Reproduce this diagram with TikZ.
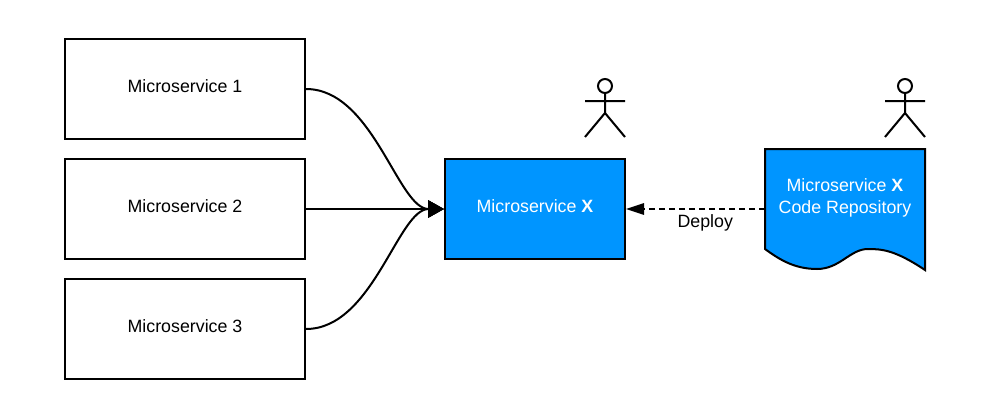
\documentclass[tikz,border=0pt]{standalone}
\usepackage{fontspec}
\setmainfont{Liberation Sans}
\usetikzlibrary{positioning,arrows.meta}
\definecolor{xblue}{HTML}{0095FF}
\tikzset{
  every node/.style={font=\fontsize{13.35}{16.5}\selectfont},
  service/.style={draw=black, line width=1.5pt, fill=white, minimum width=180pt, minimum height=75pt, inner sep=0pt, text depth=5pt},
  target/.style={service, fill=xblue, text=white, minimum width=135pt},
  link/.style={line width=1.5pt, -{Triangle[length=12pt,width=13pt]}},
  deploy/.style={line width=1.5pt, dash pattern=on 4.5pt off 3pt, -{Triangle[length=13.5pt,width=8.5pt]}},
  person/.pic={
    \draw[line width=1.5pt] (0,0) circle [radius=5.25pt];
    \draw[line width=1.5pt] (0,7) -- (0,27) (-20,15) -- (20,15) (-20,51) -- (0,27) -- (20,51);
  }
}
\begin{document}
\begin{tikzpicture}[x=0.75pt,y=-0.75pt]
  \useasboundingbox (0,0) rectangle (990,418);
  \node [service] (ms1) at (185,89) {Microservice 1};
  \node [service, below=13.5pt of ms1] (ms2) {Microservice 2};
  \node [service, below=13.5pt of ms2] (ms3) {Microservice 3};
  \node [target] (msx) at (535,209) {Microservice \textbf{X}};
  \draw[draw=black, line width=1.5pt, fill=xblue] (765,149) -- (925,149) -- (925,270)
    .. controls (895,250) and (882,249) .. (868,249)
    .. controls (850,249) and (840,269) .. (817,269)
    .. controls (795,269) and (780,260) .. (765,249) -- cycle;
  \node [text=white, align=center] (repo) at (845,197.5) {Microservice \textbf{X}\\Code Repository};
  \coordinate (repoin) at (765,209);
  \pic at (605,86) {person};
  \pic at (905,86) {person};
  \draw[link] (ms1.east) .. controls (373,89) and (398,209) .. (msx.west);
  \draw[link] (ms2.east) -- (msx.west);
  \draw[link] (ms3.east) .. controls (373,329) and (398,209) .. (msx.west);
  \draw[deploy] (repoin) -- node[below, pos=0.43] (deploylabel) {Deploy} (msx.east);
\end{tikzpicture}
\end{document}
